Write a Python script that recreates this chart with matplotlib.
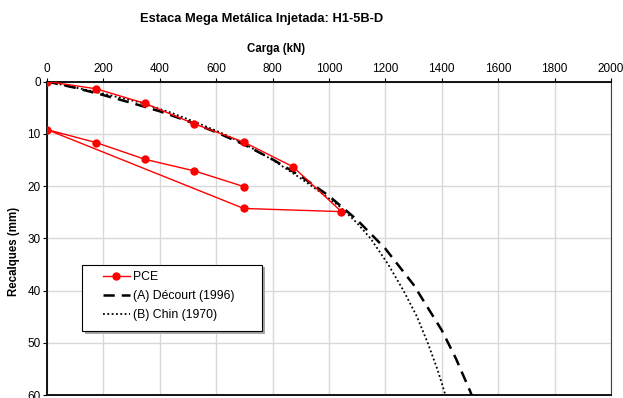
import matplotlib
matplotlib.use('Agg')
import matplotlib.pyplot as plt
from matplotlib.patches import Rectangle

plt.rcParams['font.family'] = ['Liberation Sans', 'DejaVu Sans']

# prova de carga estatica (PCE): carga (kN) x recalque (mm)
pce_carga = [0, 175, 348, 522, 698, 872, 1044, 698, 0, 175, 348, 522, 698]
pce_recalque = [0, 1.4, 4.2, 8.1, 11.6, 16.3, 24.9, 24.3, 9.2, 11.7, 14.9, 17.1, 20.1]

# (A) Decourt (1996) - curva extrapolada
decourt_carga = [0, 100, 200, 300, 400, 500, 600, 700, 800, 900, 1000, 1100,
                 1200, 1300, 1400, 1450, 1500, 1520]
decourt_recalque = [0, 1.2, 2.6, 4.1, 5.7, 7.6, 9.7, 12.1, 14.9, 18.1, 21.9, 26.5,
                    32.0, 38.9, 47.6, 53.0, 59.2, 61.9]

# (B) Chin (1970) - curva extrapolada
chin_carga = [0, 175, 330, 442, 537, 625, 702, 800, 885, 965, 1040, 1098,
              1147, 1210, 1264, 1312, 1350, 1384, 1413, 1423]
chin_recalque = [0, 2, 4, 6, 8, 10, 12, 15, 18, 21, 24, 27,
                 30, 35, 40, 45, 50, 55, 60, 62]

fig = plt.figure(figsize=(6.23, 3.98), dpi=100)
ax = fig.add_axes([0.0754, 0.0075, 0.9053, 0.7877])

ax.plot(pce_carga, pce_recalque, color='red', lw=1, marker='o', ms=5,
        label='PCE', zorder=4)
ax.plot(decourt_carga, decourt_recalque, color='black', lw=1.8,
        dashes=(4.5, 2.8), label='(A) Décourt (1996)', zorder=3)
ax.plot(chin_carga, chin_recalque, color='black', lw=1.3,
        dashes=(1, 1.4), label='(B) Chin (1970)', zorder=3)

ax.set_xlim(0, 2000)
ax.set_ylim(60, 0)
ax.set_xticks(range(0, 2001, 200))
ax.set_yticks(range(0, 61, 10))
ax.xaxis.tick_top()
ax.tick_params(axis='both', labelsize=8.5, length=3, width=0.8, pad=1.5)
ax.grid(True, color='#d9d9d9', lw=1)
ax.set_axisbelow(True)

for side in ['top', 'left', 'bottom']:
    ax.spines[side].set_linewidth(1.3)
ax.spines['right'].set_color('#404040')

fig.text(0.42, 0.953, 'Estaca Mega Metálica Injetada: H1-5B-D',
         ha='center', va='center', fontsize=9.3, fontweight='bold')
fig.text(0.443, 0.877, 'Carga (kN)', ha='center', va='center',
         fontsize=8.3, fontweight='bold')
fig.text(0.023, 0.367, 'Recalques (mm)', ha='center', va='center',
         fontsize=8.3, fontweight='bold', rotation=90)

# caixa da legenda com sombra (estilo Excel)
ax.add_patch(Rectangle((0.067, 0.196), 0.319, 0.211, transform=ax.transAxes,
                       facecolor='#a6a6a6', edgecolor='none', zorder=5))
ax.add_patch(Rectangle((0.062, 0.204), 0.319, 0.211, transform=ax.transAxes,
                       facecolor='white', edgecolor='black', lw=0.8, zorder=6))

leg = ax.legend(loc='upper left', bbox_to_anchor=(0.099, 0.394), fontsize=8.8,
                frameon=False, handlelength=2.2, handletextpad=0.3,
                borderpad=0, borderaxespad=0, labelspacing=0.55)
leg.set_zorder(7)

fig.savefig('out.png', dpi=100)
